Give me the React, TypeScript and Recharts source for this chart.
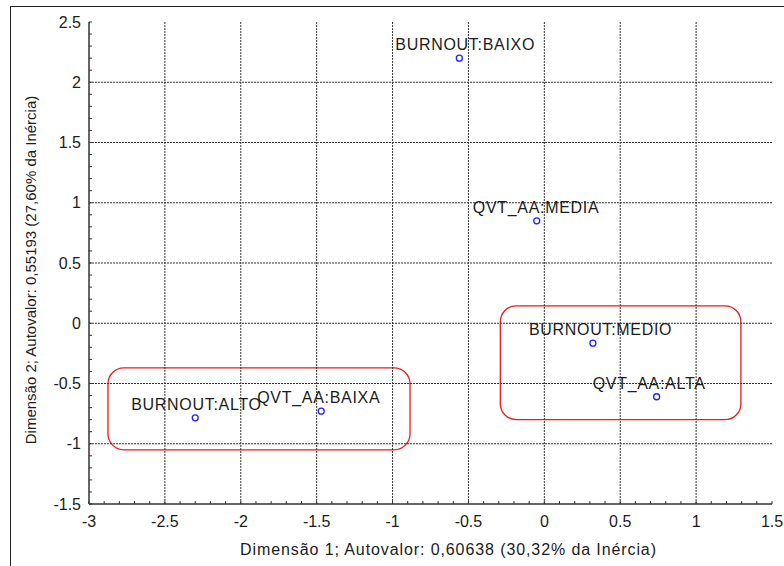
import React from "react";
import {
  ScatterChart,
  Scatter,
  XAxis,
  YAxis,
  ReferenceLine,
  ReferenceArea,
  Label,
} from "recharts";

// category coordinates (dimension 1, dimension 2)
const names = [
  "BURNOUT:BAIXO",
  "QVT_AA:MEDIA",
  "BURNOUT:MEDIO",
  "QVT_AA:ALTA",
  "BURNOUT:ALTO",
  "QVT_AA:BAIXA",
];
const dim1 = [-0.56, -0.05, 0.32, 0.74, -2.3, -1.47];
const dim2 = [2.2, 0.85, -0.165, -0.61, -0.785, -0.73];

// highlight boxes (data units)
const boxX1 = [-2.875, -0.29];
const boxX2 = [-0.885, 1.295];
const boxY1 = [-0.37, 0.145];
const boxY2 = [-1.05, -0.8];

const xMajor = [-3, -2.5, -2, -1.5, -1, -0.5, 0, 0.5, 1, 1.5];
const yMajor = [-1.5, -1, -0.5, 0, 0.5, 1, 1.5, 2, 2.5];

const xTitle = "Dimensão 1; Autovalor: 0,60638 (30,32% da Inércia)";
const yTitle = "Dimensão 2; Autovalor: 0,55193 (27,60% da Inércia)";

const data = names.map((name, i) => ({ name, x: dim1[i], y: dim2[i] }));

// minor ticks every 0.1 between the labelled ones
const withMinor = (majors: number[]) => {
  const out: number[] = [];
  for (let i = 0; i < majors.length - 1; i++) {
    for (let k = 0; k < 5; k++) out.push(Math.round((majors[i] + k * 0.1) * 10) / 10);
  }
  out.push(majors[majors.length - 1]);
  return out;
};
const xTicks = withMinor(xMajor);
const yTicks = withMinor(yMajor);

const isMajor = (v: number) => Math.abs(v * 2 - Math.round(v * 2)) < 1e-6;
const font = "'Liberation Sans', Arial, sans-serif";
const ink = "#1c1c1c";

const fmt = (v: number) => String(v);

const XTick = (props: any) => {
  const { x, y, payload, side } = props;
  const v = payload.value;
  const dir = side === "top" ? 1 : -1;
  return (
    <g>
      <line x1={x} x2={x} y1={y} y2={y + dir * 3} stroke="#333" />
      {side !== "top" && isMajor(v) && (
        <text x={x} y={y + 17} dy="0.35em" textAnchor="middle" fontSize={16} fill={ink} fontFamily={font}>
          {fmt(v)}
        </text>
      )}
    </g>
  );
};

const YTick = (props: any) => {
  const { x, y, payload, side } = props;
  const v = payload.value;
  const dir = side === "right" ? -1 : 1;
  return (
    <g>
      <line x1={x} x2={x + dir * 3} y1={y} y2={y} stroke="#333" />
      {side !== "right" && isMajor(v) && (
        <text x={x - 8} y={y} dy="0.35em" textAnchor="end" fontSize={16} fill={ink} fontFamily={font}>
          {fmt(v)}
        </text>
      )}
    </g>
  );
};

const Point = (props: any) => {
  const { cx, cy, payload } = props;
  return (
    <g>
      <circle cx={cx} cy={cy} r={3} fill="#fff" stroke="#2020ff" strokeWidth={1.3} />
      <text x={cx - 64} y={cy - 8} fontSize={16} letterSpacing={0.7} fill={ink} fontFamily={font}>
        {payload.name}
      </text>
    </g>
  );
};

const RoundBox = (props: any) => {
  const { x, y, width, height } = props;
  return (
    <rect x={x} y={y} width={width} height={height} rx={16} ry={16} fill="none" stroke="#f01818" strokeWidth={1.3} />
  );
};

export default function App() {
  return (
    <div style={{ position: "absolute", left: 0, top: 0, width: 784, height: 566, overflow: "hidden", background: "#fff" }}>
      <div
        style={{
          position: "absolute",
          left: 10,
          top: 6,
          width: 800,
          height: 600,
          borderLeft: "1.5px solid #222",
          borderTop: "1.5px solid #222",
        }}
      />
      <div style={{ position: "absolute", left: 0, top: 0 }}>
        <ScatterChart width={784} height={566} margin={{ top: 22, right: 12, bottom: 0, left: 0 }}>
          <XAxis
            type="number"
            dataKey="x"
            domain={[-3, 1.5]}
            ticks={xTicks}
            interval={0}
            allowDataOverflow
            height={62}
            tickSize={0}
            tickMargin={0}
            tickLine={false}
            axisLine={{ stroke: "#333", strokeWidth: 1.5 }}
            tick={<XTick side="bottom" />}
          >
            <Label
              content={(p: any) => {
                const vb = p.viewBox;
                return (
                  <text x={vb.x + vb.width / 2 + 18} y={vb.y + 51} textAnchor="middle" fontSize={16} letterSpacing={0.9} fill={ink} fontFamily={font}>
                    {xTitle}
                  </text>
                );
              }}
            />
          </XAxis>
          <XAxis
            xAxisId="top"
            orientation="top"
            type="number"
            dataKey="x"
            domain={[-3, 1.5]}
            ticks={xTicks}
            interval={0}
            allowDataOverflow
            height={0}
            tickSize={0}
            tickMargin={0}
            tickLine={false}
            axisLine={{ stroke: "#333", strokeWidth: 1.5 }}
            tick={<XTick side="top" />}
          />
          <YAxis
            type="number"
            dataKey="y"
            domain={[-1.5, 2.5]}
            ticks={yTicks}
            interval={0}
            allowDataOverflow
            width={89}
            tickSize={0}
            tickMargin={0}
            tickLine={false}
            axisLine={{ stroke: "#333", strokeWidth: 1.5 }}
            tick={<YTick side="left" />}
          >
            <Label
              content={(p: any) => {
                const vb = p.viewBox;
                const cx = vb.x + 31;
                const cy = vb.y + vb.height / 2 + 7;
                return (
                  <text x={cx} y={cy} transform={`rotate(-90 ${cx} ${cy})`} dy="0.35em" textAnchor="middle" fontSize={15} fill={ink} fontFamily={font}>
                    {yTitle}
                  </text>
                );
              }}
            />
          </YAxis>
          <YAxis
            yAxisId="right"
            orientation="right"
            type="number"
            dataKey="y"
            domain={[-1.5, 2.5]}
            ticks={yTicks}
            interval={0}
            allowDataOverflow
            width={0}
            tickSize={0}
            tickMargin={0}
            tickLine={false}
            axisLine={{ stroke: "#333", strokeWidth: 1.5 }}
            tick={<YTick side="right" />}
          />
          {xMajor.slice(1, -1).map((v) => (
            <ReferenceLine key={"vx" + v} x={v} stroke="#333" strokeDasharray="2 1" />
          ))}
          {yMajor.slice(1, -1).map((v) => (
            <ReferenceLine key={"hy" + v} y={v} stroke="#333" strokeDasharray="2 1" />
          ))}
          {boxX1.map((_, i) => (
            <ReferenceArea
              key={"box" + i}
              x1={boxX1[i]}
              x2={boxX2[i]}
              y1={boxY2[i]}
              y2={boxY1[i]}
              shape={<RoundBox />}
            />
          ))}
          <Scatter data={data} isAnimationActive={false} shape={<Point />} />
        </ScatterChart>
      </div>
    </div>
  );
}
